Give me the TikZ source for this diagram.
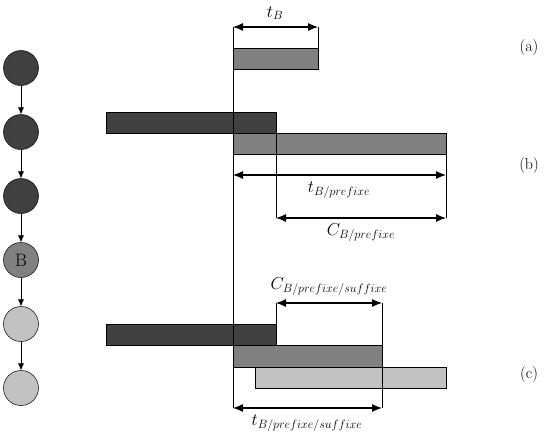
\documentclass[tikz,border=0pt]{standalone}
\usepackage{fontspec}
\usetikzlibrary{arrows.meta}
\begin{document}
\begin{tikzpicture}[x=1pt,y=-1pt,
  job/.style={draw=black,line width=0.5pt,circle,minimum size=35pt,inner sep=0pt,font=\fontsize{18}{20}\selectfont},
  link/.style={-{Latex[length=7pt,width=6pt]},line width=0.5pt},
  bar/.style={draw=black,line width=0.5pt},
  guide/.style={line width=0.5pt},
  dim/.style={{Latex[length=10pt,width=8pt]}-{Latex[length=10pt,width=8pt]},line width=1.1pt},
  lab/.style={font=\fontsize{17}{20}\selectfont},
  tag/.style={font=\fontsize{16}{18}\selectfont}]
\useasboundingbox (0,0) rectangle (548,434);
\definecolor{cdark}{gray}{0.25}
\definecolor{cmid}{gray}{0.5}
\definecolor{clight}{gray}{0.76}
% chain of jobs
\node[job,fill=cdark] (n1) at (21,68) {};
\node[job,fill=cdark] (n2) at (21,132) {};
\node[job,fill=cdark] (n3) at (21,196) {};
\node[job,fill=cmid] (n4) at (21,260) {B};
\node[job,fill=clight] (n5) at (21,324) {};
\node[job,fill=clight] (n6) at (21,388) {};
\draw[link] (n1) -- (n2);
\draw[link] (n2) -- (n3);
\draw[link] (n3) -- (n4);
\draw[link] (n4) -- (n5);
\draw[link] (n5) -- (n6);
% bars
\fill[bar,fill=cmid] (233,48) rectangle (318,69);
\fill[bar,fill=cdark] (106,112) rectangle (276,133);
\fill[bar,fill=cmid] (233,133) rectangle (446,154);
\fill[bar,fill=cdark] (106,324) rectangle (276,345);
\fill[bar,fill=cmid] (233,345) rectangle (382,367);
\fill[bar,fill=clight] (255,367) rectangle (446,388);
\draw[bar] (233,48) rectangle (318,69);
\draw[bar] (106,112) rectangle (276,133);
\draw[bar] (233,133) rectangle (446,154);
\draw[bar] (106,324) rectangle (276,345);
\draw[bar] (233,345) rectangle (382,367);
\draw[bar] (255,367) rectangle (446,388);
% guide coordinates
\coordinate (gtop) at (233,27);
\coordinate (gbot) at (233,408);
\coordinate (aR) at (318,27);
\coordinate (aRb) at (318,48);
\coordinate (bL) at (233,175);
\coordinate (bR) at (446,175);
\coordinate (bRt) at (446,154);
\coordinate (cL) at (276,218);
\coordinate (cR) at (446,218);
\coordinate (cLt) at (276,133);
\coordinate (dL) at (276,303);
\coordinate (dR) at (382,303);
\coordinate (dLb) at (276,324);
\coordinate (eR) at (382,408);
% guides
\draw[guide] (gtop) -- (gbot);
\draw[guide] (aR) -- (aRb);
\draw[guide] (bRt) -- (cR);
\draw[guide] (cLt) -- (cL);
\draw[guide] (dL) -- (dLb);
\draw[guide] (dR) -- (eR);
% dimension arrows
\draw[dim] (gtop) -- (aR);
\draw[dim] (bL) -- (bR);
\draw[dim] (cL) -- (cR);
\draw[dim] (dL) -- (dR);
\draw[dim] (gbot) -- (eR);
% labels
\node[lab] (ltb) at (275,13) {$t_B$};
\node[lab] (ltbp) at (339,190) {$t_{B/prefixe}$};
\node[lab] (lcbp) at (361,233) {$C_{B/prefixe}$};
\node[lab] (lcbps) at (329,287) {$C_{B/prefixe/suffixe}$};
\node[lab] (ltbps) at (307,423) {$t_{B/prefixe/suffixe}$};
\node[tag] (ta) at (529,48) {(a)};
\node[tag] (tb) at (529,166) {(b)};
\node[tag] (tc) at (529,375) {(c)};
\end{tikzpicture}
\end{document}
